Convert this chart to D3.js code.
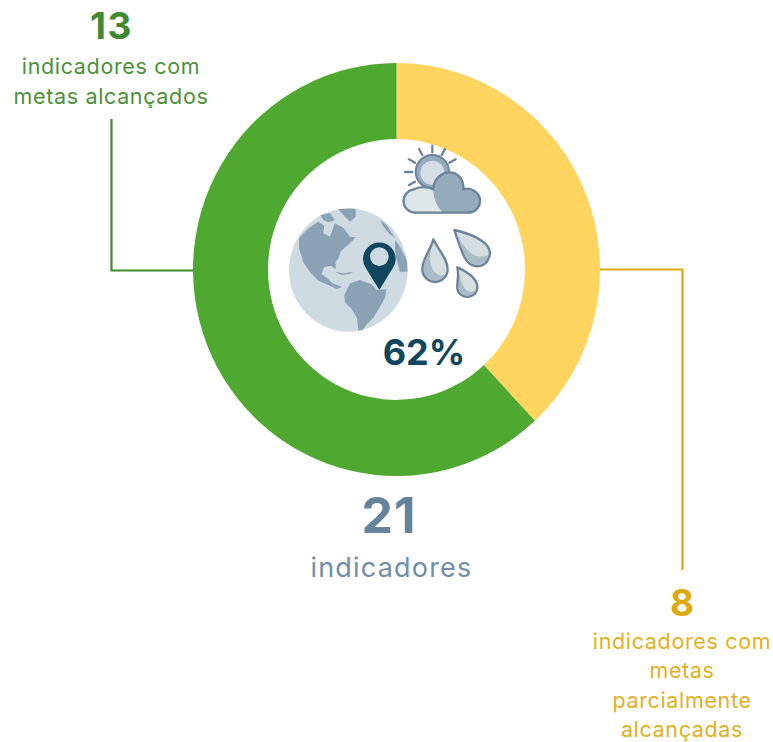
<!DOCTYPE html>
<html>
<head>
<meta charset="utf-8">
<script src="https://cdn.jsdelivr.net/npm/d3@7"></script>
<style>
  html, body { margin: 0; padding: 0; background: #fff; }
  text { font-family: Inter, "Noto Sans", sans-serif; }
</style>
</head>
<body>
<svg id="chart" width="773" height="742"></svg>
<script>
const categories = ['metas parcialmente alcançadas', 'metas alcançados'];
const values = [8, 13];
const sliceColors = ['#ffd55f', '#4fa830'];
const totalValue = '21';
const totalLabel = 'indicadores';
const centerLabel = '62%';
const greenLines = ['indicadores com', 'metas alcançados'];
const yellowLines = ['indicadores com', 'metas', 'parcialmente', 'alcançadas'];

const svg = d3.select('#chart');
const cx = 396.5, cy = 269.5;
const outerR = 203.5, innerR = 128.5;

const pie = d3.pie().sort(null).value(d => d);
const arc = d3.arc().innerRadius(innerR).outerRadius(outerR);

// the donut in the picture is a little taller than wide
svg.append('g')
  .attr('transform', `translate(${cx},${cy}) scale(1,1.0147)`)
  .selectAll('path')
  .data(pie(values))
  .join('path')
  .attr('fill', (d, i) => sliceColors[i])
  .attr('d', arc);

// leader lines
svg.append('path')
  .attr('d', 'M111.5,119V270.5H193')
  .attr('fill', 'none').attr('stroke', '#3f8a2e').attr('stroke-width', 2.2);
svg.append('path')
  .attr('d', 'M600,269.5H682.5V570')
  .attr('fill', 'none').attr('stroke', '#dcaa0c').attr('stroke-width', 2.2);

function label(x, y, txt, size, weight, color, spacing) {
  svg.append('text')
    .attr('x', x).attr('y', y)
    .attr('text-anchor', 'middle')
    .attr('font-size', size)
    .attr('font-weight', weight)
    .attr('letter-spacing', spacing || 0)
    .attr('fill', color)
    .text(txt);
}

label(111.5, 39, values[1], 37, 700, '#3f8a2e', 1.5);
greenLines.forEach((t, i) => label(111, 74 + i * 30, t, 21.5, 400, '#4c9039', 0.65));

label(682, 616, values[0], 37, 700, '#dcaa0c');
yellowLines.forEach((t, i) => label(682, 649 + i * 29.3, t, 21.5, 400, '#e3b022', 0.65));

label(389, 533, totalValue, 50, 700, '#65849c', 1);
label(391.5, 577, totalLabel, 27, 400, '#6f8ea8', 1.2);
label(424, 365, centerLabel, 36, 700, '#10475f');

// globe, drawn in 3x units
const globe = svg.append('g').attr('transform', 'translate(285,205) scale(0.3333)');

globe.append('clipPath').attr('id', 'globe-clip')
  .append('ellipse').attr('cx', 190).attr('cy', 195).attr('rx', 178).attr('ry', 185);
globe.append('ellipse').attr('cx', 190).attr('cy', 195).attr('rx', 178).attr('ry', 185).attr('fill', '#cfdbe3');

const land = [
  'M42,100L70,70L100,50L118,62L115,85L135,95L150,55L175,68L195,95L212,97L192,118L168,138L160,160L152,172L152,192L137,182L117,187L110,207L127,220L142,235L172,246L155,252L130,240L100,227L75,202L55,172L42,130Z',
  'M105,30L135,25L150,45L130,52L115,45Z',
  'M160,12L212,10L212,35L195,50L175,30Z',
  'M150,200L175,205L205,200L195,207L170,210Z',
  'M178,270L195,235L225,225L260,238L275,255L305,253L300,278L283,308L265,338L242,362L230,380L220,380L216,340L200,312L180,292Z',
  'M330,105L345,125L368,170L368,200L345,200L335,165L330,135Z',
  'M285,45L305,60L330,100L312,85L295,65Z'
];
globe.append('g').attr('clip-path', 'url(#globe-clip)')
  .selectAll('path').data(land).join('path')
  .attr('d', d => d).attr('fill', '#8ba2b5');

// map pin
globe.append('path')
  .attr('d', 'M283,255L243,190A49,49 0 1 1 323,190Z')
  .attr('fill', '#10475f');
globe.append('circle').attr('cx', 283).attr('cy', 155).attr('r', 28).attr('fill', '#cfdbe3');

// weather icons, drawn in 3x units
const weather = svg.append('g').attr('transform', 'translate(400,140) scale(0.3333)');
const iconStroke = '#6a8499';

const rays = [[97, 17, 97, 37], [57, 27, 67, 45], [27, 58, 45, 68], [15, 96, 37, 96], [27, 135, 45, 125], [135, 27, 125, 45], [167, 58, 148, 68]];
weather.append('g').selectAll('line').data(rays).join('line')
  .attr('x1', d => d[0]).attr('y1', d => d[1]).attr('x2', d => d[2]).attr('y2', d => d[3])
  .attr('stroke', iconStroke).attr('stroke-width', 7).attr('stroke-linecap', 'round');
weather.append('circle').attr('cx', 97).attr('cy', 95).attr('r', 50).attr('fill', '#94abbc').attr('stroke', iconStroke).attr('stroke-width', 6);
weather.append('circle').attr('cx', 97).attr('cy', 98).attr('r', 36).attr('fill', '#d5dee6');

const cloud = 'M50,218A35,35 0 0 1 42,148C55,140 80,138 100,148C100,118 125,97 148,97C175,97 192,120 190,148C215,140 240,160 240,182C240,205 222,218 205,218Z';
weather.append('path').attr('d', cloud).attr('fill', '#dfe6ea');
weather.append('path')
  .attr('d', 'M130,218C110,200 100,175 100,148C100,118 125,97 148,97C175,97 192,120 190,148C215,140 240,160 240,182C240,205 222,218 205,218Z')
  .attr('fill', '#94abbc');
weather.append('path').attr('d', cloud).attr('fill', 'none').attr('stroke', iconStroke).attr('stroke-width', 7);

const drops = [
  { d: 'M100,298C90,335 67,355 67,388A38,38 0 0 0 143,388C143,355 115,330 100,298Z', s: 'M98,312C90,340 72,360 71,388A34,34 0 0 0 136,405C105,415 75,375 98,312Z' },
  { d: 'M163,270C175,305 180,325 195,355C210,385 255,390 268,350C280,315 230,285 163,270Z', s: 'M170,280C182,310 185,325 198,352C212,380 252,385 265,345C240,355 205,355 170,280Z' },
  { d: 'M172,382C178,410 170,430 172,445C176,480 232,480 232,440C232,415 200,395 172,382Z', s: 'M175,392C180,415 173,430 175,445C178,472 222,475 228,452C200,465 185,440 175,392Z' }
];
weather.append('g').selectAll('path').data(drops).join('path')
  .attr('d', d => d.d).attr('fill', '#d5dfe2');
weather.append('g').selectAll('path').data(drops).join('path')
  .attr('d', d => d.s).attr('fill', '#a9bcc8');
weather.append('g').selectAll('path').data(drops).join('path')
  .attr('d', d => d.d).attr('fill', 'none').attr('stroke', iconStroke).attr('stroke-width', 7).attr('stroke-linejoin', 'round');
</script>
</body>
</html>
